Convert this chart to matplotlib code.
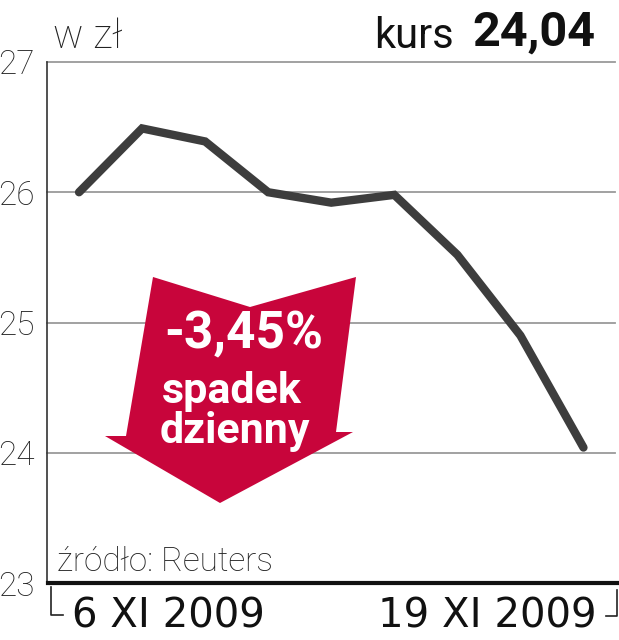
import matplotlib
matplotlib.use("Agg")
import matplotlib.pyplot as plt
from matplotlib.patches import Polygon
from matplotlib.lines import Line2D

# ---- data ----
dates = ['6 XI', '9 XI', '10 XI', '12 XI', '13 XI', '16 XI', '17 XI', '18 XI', '19 XI']
prices = [26.0, 26.49, 26.39, 26.0, 25.92, 25.98, 25.52, 24.90, 24.04]
y_ticks = [23, 24, 25, 26, 27]
first_label = '6 XI 2009'
last_label = '19 XI 2009'
unit_label = 'w zł'
kurs_label = 'kurs'
kurs_value = '24,04'
change_label = '-3,45%'
change_desc = ['spadek', 'dzienny']
source_label = 'źródło: Reuters'

W, H = 619, 640
fig = plt.figure(figsize=(W / 100, H / 100), dpi=100)
fig.patch.set_facecolor('white')

def fx(px):
    return px / W

def fy(py):
    return 1 - py / H

ax_left, ax_right, ax_top, ax_bottom = 47.5, 615, 62, 583
ax = fig.add_axes([fx(ax_left), fy(ax_bottom), fx(ax_right - ax_left), (ax_bottom - ax_top) / H])

x = list(range(len(prices)))
ax.plot(x, prices, color='#3d3d3d', lw=6.0, solid_capstyle='round',
        solid_joinstyle='miter', zorder=5)

ax.set_xlim(-0.5, 8.5)
ax.set_ylim(23, 27)
ax.set_yticks(y_ticks)
ax.set_yticklabels([str(t) for t in y_ticks], family='Roboto', weight='light',
                   fontsize=24, color='#222222')
ax.tick_params(axis='y', length=0, pad=9)
ax.set_xticks([])
for t in y_ticks[1:]:
    ax.axhline(t, color='#9a9a9a', lw=1.3, zorder=1, clip_on=False)

for s in ['top', 'right']:
    ax.spines[s].set_visible(False)
ax.spines['left'].set_color('#333333')
ax.spines['left'].set_linewidth(1.2)
ax.spines['bottom'].set_color('#111111')
ax.spines['bottom'].set_linewidth(3.0)
ax.spines['bottom'].set_bounds(-0.5, 8.6)

# red arrow
red = '#c8053b'
arrow_px = [(153, 277), (250, 307), (356, 277), (336, 432), (353, 432),
            (220, 503), (105, 436), (126, 436)]
poly = Polygon([(fx(a), fy(b)) for a, b in arrow_px], closed=True,
               transform=fig.transFigure, facecolor=red, edgecolor='none', zorder=3)
ax.add_patch(poly)
poly.set_clip_on(False)

fig.text(fx(244), fy(334), change_label, family='Roboto', weight='bold',
         fontsize=37, color='white', ha='center', va='center', zorder=10)
fig.text(fx(232), fy(392), change_desc[0], family='Roboto', weight='bold',
         fontsize=31, color='white', ha='center', va='center', zorder=10)
fig.text(fx(235), fy(432), change_desc[1], family='Roboto', weight='bold',
         fontsize=31, color='white', ha='center', va='center', zorder=10)

# header texts
fig.text(fx(53), fy(48), unit_label, family='Roboto', weight='light',
         fontsize=29, color='#222222', ha='left', va='baseline')
fig.text(fx(374), fy(48), kurs_label, family='Roboto', weight='normal',
         fontsize=30, color='#111111', ha='left', va='baseline')
fig.text(fx(595), fy(46), kurs_value, family='Roboto', weight='bold',
         fontsize=35, color='#111111', ha='right', va='baseline')

# source
fig.text(fx(57), fy(571), source_label, family='Roboto', weight='light',
         fontsize=24, color='#222222', ha='left', va='baseline')

# bottom date labels with bracket marks
fig.text(fx(72), fy(628), first_label, family='DejaVu Sans', weight='normal',
         fontsize=29, color='#111111', ha='left', va='baseline')
fig.text(fx(597), fy(628), last_label, family='DejaVu Sans', weight='normal',
         fontsize=29, color='#111111', ha='right', va='baseline')
fig.add_artist(Line2D([fx(50.5), fx(50.5), fx(63)], [fy(587), fy(615), fy(615)],
                      color='#222222', lw=1.2))
fig.add_artist(Line2D([fx(606), fx(617), fx(617)], [fy(616), fy(616), fy(590)],
                      color='#222222', lw=1.2))

fig.savefig('out.png', dpi=100, facecolor='white')
